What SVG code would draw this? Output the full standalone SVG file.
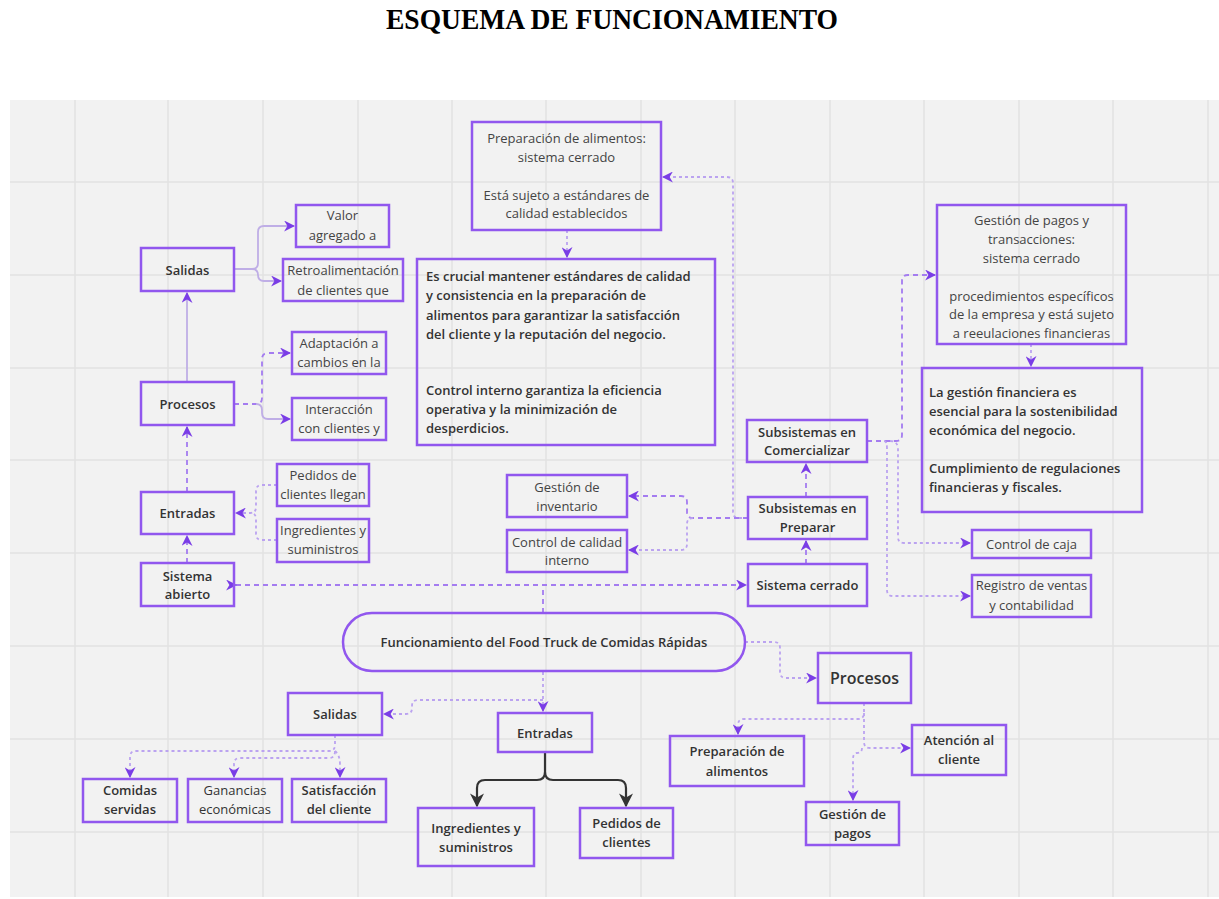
<svg xmlns="http://www.w3.org/2000/svg" width="1219" height="899" viewBox="0 0 1219 899">
<defs>
<style>
.bx{fill:none;stroke:#9157ee;stroke-width:2.5}
.t{font-family:"Open Sans","Liberation Sans",sans-serif;font-size:13px;fill:#444;text-anchor:middle;dominant-baseline:central}
.b{font-weight:600;fill:#333}
.m{font-weight:500;fill:#333}
.l{text-anchor:start}
.c{fill:none;stroke:#a47cf0;stroke-width:1.8}
.d{stroke-dasharray:5 4}
.o{stroke:#bba3f0;stroke-dasharray:3 3}
.s{stroke:#bfaee6}
.k{fill:none;stroke:#333;stroke-width:2.2}
.g{stroke:#e2e2e2;stroke-width:1.5}
</style>
<marker id="a" viewBox="0 0 10 10" refX="9" refY="5" markerWidth="11" markerHeight="11" markerUnits="userSpaceOnUse" orient="auto">
<path d="M0,0 L10,5 L0,10 L3,5 z" fill="#7a3de6"/>
</marker>
<marker id="as" viewBox="0 0 10 10" refX="1" refY="5" markerWidth="11" markerHeight="11" markerUnits="userSpaceOnUse" orient="auto-start-reverse">
<path d="M0,0 L10,5 L0,10 L3,5 z" fill="#7a3de6" transform="rotate(180 5 5)"/>
</marker>
<marker id="k" viewBox="0 0 10 10" refX="9" refY="5" markerWidth="14" markerHeight="14" markerUnits="userSpaceOnUse" orient="auto">
<path d="M0,0 L10,5 L0,10 L3,5 z" fill="#333"/>
</marker>
</defs>
<rect width="1219" height="899" fill="#fff"/>
<text x="612" y="29" font-family="Liberation Serif, serif" font-weight="bold" font-size="29" text-anchor="middle" textLength="452" lengthAdjust="spacingAndGlyphs" fill="#000">ESQUEMA DE FUNCIONAMIENTO</text>
<g id="grid">
<rect x="10" y="100" width="1209" height="797" fill="#f2f2f2"/>
<path class="g" d="M75,100V897M168,100V897M263,100V897M358,100V897M452,100V897M546,100V897M641,100V897M735,100V897M830,100V897M924,100V897M1019,100V897M1113,100V897M1208,100V897M10,182H1219M10,275H1219M10,368H1219M10,460H1219M10,553H1219M10,646H1219M10,739H1219M10,832H1219"/>
</g>
<g id="connectors">
<path class="c s" d="M187,382V293" marker-end="url(#a)"/>
<path class="c s" d="M234,269H252Q258,269 258,263V232Q258,226 264,226H294" marker-end="url(#a)"/>
<path class="c s" d="M252,269Q258,269 258,275Q258,281 264,281H281" marker-end="url(#a)"/>
<path class="c d" d="M234,404H256Q262,404 262,398V359Q262,353 268,353H290" marker-end="url(#a)"/>
<path class="c s" d="M256,404Q262,404 262,410V413Q262,419 268,419H290" marker-end="url(#a)"/>
<path class="c o" d="M277,485H262Q256,485 256,491V507Q256,513 250,513H236" marker-end="url(#a)"/>
<path class="c o" d="M277,540H262Q256,540 256,534V519Q256,513 250,513"/>
<path class="c d" d="M187,492V427" marker-end="url(#a)"/>
<path class="c d" d="M187,563V536" marker-end="url(#a)"/>
<path class="c d" d="M236,585H746" marker-start="url(#as)" marker-end="url(#a)"/>
<path class="c d" d="M543,613V585"/>
<path class="c o" d="M567,230V257" marker-end="url(#a)"/>
<path class="c o" d="M748,518H739Q733,518 733,512V183Q733,177 727,177H663" marker-end="url(#a)"/>
<path class="c d" d="M748,518H693Q687,518 687,512V502Q687,496 681,496H629" marker-end="url(#a)"/>
<path class="c o" d="M693,518Q687,518 687,524V544Q687,550 681,550H629" marker-end="url(#a)"/>
<path class="c d" d="M806,564V541" marker-end="url(#a)"/>
<path class="c d" d="M806,497V464" marker-end="url(#a)"/>
<path class="c d" d="M867,441H896Q902,441 902,435V281Q902,275 908,275H935" marker-end="url(#a)"/>
<path class="c o" d="M890,441Q898,441 898,449V537Q898,543 904,543H970" marker-end="url(#a)"/>
<path class="c o" d="M884,441Q887,441 887,449V590Q887,596 893,596H970" marker-end="url(#a)"/>
<path class="c o" d="M1031,344V366" marker-end="url(#a)"/>
<path class="c o" d="M543,672V711" marker-end="url(#a)"/>
<path class="c o" d="M543,700H418Q412,700 412,706V708Q412,714 406,714H384" marker-end="url(#a)"/>
<path class="c o" d="M335,735V745Q335,751 329,751H136Q130,751 130,757V777" marker-end="url(#a)"/>
<path class="c o" d="M335,751Q335,758 329,758H240Q234,758 234,764V777" marker-end="url(#a)"/>
<path class="c o" d="M335,751Q340,755 340,765V777" marker-end="url(#a)"/>
<path class="k" d="M545,752V772Q545,780 537,780H485Q477,780 477,788V806" marker-end="url(#k)"/>
<path class="k" d="M545,772Q545,780 553,780H618Q626,780 626,788V806" marker-end="url(#k)"/>
<path class="c o" d="M745,642H774Q780,642 780,648V672Q780,678 786,678H816" marker-end="url(#a)"/>
<path class="c o" d="M864,703V713Q864,719 858,719H744Q738,719 738,725V734" marker-end="url(#a)"/>
<path class="c o" d="M864,713V742Q864,748 870,748H910" marker-end="url(#a)"/>
<path class="c o" d="M862,748Q862,753 857,753Q853,753 853,759V800" marker-end="url(#a)"/>
</g>
<g id="n-salidas-top"><rect class="bx" x="141" y="248" width="93" height="43"/><text class="t b" x="187.5" y="269.5">Salidas</text></g>
<g id="n-valor"><rect class="bx" x="296" y="205" width="93" height="42"/><text class="t" x="342.5" y="215">Valor</text><text class="t" x="342.5" y="235">agregado a</text></g>
<g id="n-retro"><rect class="bx" x="283" y="259" width="120" height="42"/><text class="t" x="343" y="270">Retroalimentación</text><text class="t" x="343" y="290">de clientes que</text></g>
<g id="n-procesos-top"><rect class="bx" x="141" y="382" width="93" height="43"/><text class="t b" x="187.5" y="404">Procesos</text></g>
<g id="n-adaptacion"><rect class="bx" x="292" y="332" width="94" height="42"/><text class="t" x="339" y="343">Adaptación a</text><text class="t" x="339" y="362">cambios en la</text></g>
<g id="n-interaccion"><rect class="bx" x="292" y="398" width="94" height="42"/><text class="t" x="339" y="409">Interacción</text><text class="t" x="339" y="428">con clientes y</text></g>
<g id="n-entradas-top"><rect class="bx" x="141" y="492" width="93" height="42"/><text class="t b" x="187.5" y="513">Entradas</text></g>
<g id="n-pedidos-llegan"><rect class="bx" x="277" y="464" width="92" height="42"/><text class="t" x="323" y="475">Pedidos de</text><text class="t" x="323" y="494">clientes llegan</text></g>
<g id="n-ingredientes-top"><rect class="bx" x="277" y="519" width="92" height="43"/><text class="t" x="323" y="530">Ingredientes y</text><text class="t" x="323" y="549">suministros</text></g>
<g id="n-sistema-abierto"><rect class="bx" x="141" y="563" width="93" height="43"/><text class="t b" x="187.5" y="576">Sistema</text><text class="t b" x="187.5" y="594">abierto</text></g>
<g id="n-prep-cerrado"><rect class="bx" x="472" y="122" width="189" height="108"/><text class="t" x="566.5" y="138">Preparación de alimentos:</text><text class="t" x="566.5" y="157">sistema cerrado</text><text class="t" x="566.5" y="195">Está sujeto a estándares de</text><text class="t" x="566.5" y="213">calidad establecidos</text></g>
<g id="n-prep-nota"><rect class="bx" x="417" y="259" width="298" height="186"/><text class="t b l" x="426" y="276">Es crucial mantener estándares de calidad</text><text class="t b l" x="426" y="295">y consistencia en la preparación de</text><text class="t b l" x="426" y="315">alimentos para garantizar la satisfacción</text><text class="t b l" x="426" y="334">del cliente y la reputación del negocio.</text><text class="t b l" x="426" y="390">Control interno garantiza la eficiencia</text><text class="t b l" x="426" y="409">operativa y la minimización de</text><text class="t b l" x="426" y="428">desperdicios.</text></g>
<g id="n-pagos-cerrado"><rect class="bx" x="937" y="205" width="189" height="139"/><text class="t" x="1031.5" y="220">Gestión de pagos y</text><text class="t" x="1031.5" y="239">transacciones:</text><text class="t" x="1031.5" y="258">sistema cerrado</text><text class="t" x="1031.5" y="296">procedimientos específicos</text><text class="t" x="1031.5" y="314">de la empresa y está sujeto</text><text class="t" x="1031.5" y="333">a reeulaciones financieras</text></g>
<g id="n-pagos-nota"><rect class="bx" x="922" y="368" width="220" height="144"/><text class="t b l" x="929" y="392">La gestión financiera es</text><text class="t b l" x="929" y="411">esencial para la sostenibilidad</text><text class="t b l" x="929" y="430">económica del negocio.</text><text class="t b l" x="929" y="468">Cumplimiento de regulaciones</text><text class="t b l" x="929" y="487">financieras y fiscales.</text></g>
<g id="n-comercializar"><rect class="bx" x="747" y="420" width="120" height="42"/><text class="t b" x="807" y="432">Subsistemas en</text><text class="t b" x="807" y="450">Comercializar</text></g>
<g id="n-preparar"><rect class="bx" x="748" y="497" width="119" height="42"/><text class="t b" x="807.5" y="508">Subsistemas en</text><text class="t b" x="807.5" y="527">Preparar</text></g>
<g id="n-sistema-cerrado"><rect class="bx" x="748" y="564" width="119" height="42"/><text class="t b" x="807.5" y="585">Sistema cerrado</text></g>
<g id="n-inventario"><rect class="bx" x="507" y="475" width="120" height="42"/><text class="t" x="567" y="487">Gestión de</text><text class="t" x="567" y="506">inventario</text></g>
<g id="n-calidad"><rect class="bx" x="507" y="530" width="120" height="42"/><text class="t" x="567" y="542">Control de calidad</text><text class="t" x="567" y="560">interno</text></g>
<g id="n-caja"><rect class="bx" x="972" y="530" width="119" height="28"/><text class="t" x="1031.5" y="544">Control de caja</text></g>
<g id="n-registro"><rect class="bx" x="972" y="575" width="119" height="42"/><text class="t" x="1031.5" y="585">Registro de ventas</text><text class="t" x="1031.5" y="605">y contabilidad</text></g>
<g id="n-funcionamiento"><rect class="bx" x="343" y="613" width="402" height="58" rx="29"/><text class="t b" x="544" y="642">Funcionamiento del Food Truck de Comidas Rápidas</text></g>
<g id="n-salidas"><rect class="bx" x="288" y="693" width="94" height="42"/><text class="t b" x="335" y="714">Salidas</text></g>
<g id="n-entradas"><rect class="bx" x="498" y="713" width="94" height="39"/><text class="t b" x="545" y="733">Entradas</text></g>
<g id="n-comidas"><rect class="bx" x="83" y="779" width="94" height="43"/><text class="t b" x="130" y="790">Comidas</text><text class="t b" x="130" y="809">servidas</text></g>
<g id="n-ganancias"><rect class="bx" x="188" y="779" width="94" height="43"/><text class="t m" x="235" y="790">Ganancias</text><text class="t m" x="235" y="809">económicas</text></g>
<g id="n-satisfaccion"><rect class="bx" x="292" y="779" width="94" height="43"/><text class="t b" x="339" y="790">Satisfacción</text><text class="t b" x="339" y="809">del cliente</text></g>
<g id="n-ingredientes"><rect class="bx" x="418" y="808" width="116" height="58"/><text class="t b" x="476" y="828">Ingredientes y</text><text class="t b" x="476" y="847">suministros</text></g>
<g id="n-pedidos"><rect class="bx" x="580" y="808" width="93" height="50"/><text class="t b" x="626.5" y="823">Pedidos de</text><text class="t b" x="626.5" y="842">clientes</text></g>
<g id="n-procesos"><rect class="bx" x="818" y="653" width="93" height="50"/><text class="t b" x="864.5" y="678" style="font-size:16px">Procesos</text></g>
<g id="n-prep-alimentos"><rect class="bx" x="670" y="736" width="134" height="50"/><text class="t b" x="737" y="751">Preparación de</text><text class="t b" x="737" y="771">alimentos</text></g>
<g id="n-atencion"><rect class="bx" x="912" y="725" width="94" height="50"/><text class="t b" x="959" y="740">Atención al</text><text class="t b" x="959" y="759">cliente</text></g>
<g id="n-gestion-pagos"><rect class="bx" x="806" y="802" width="93" height="43"/><text class="t b" x="852.5" y="814">Gestión de</text><text class="t b" x="852.5" y="833">pagos</text></g>
</svg>
